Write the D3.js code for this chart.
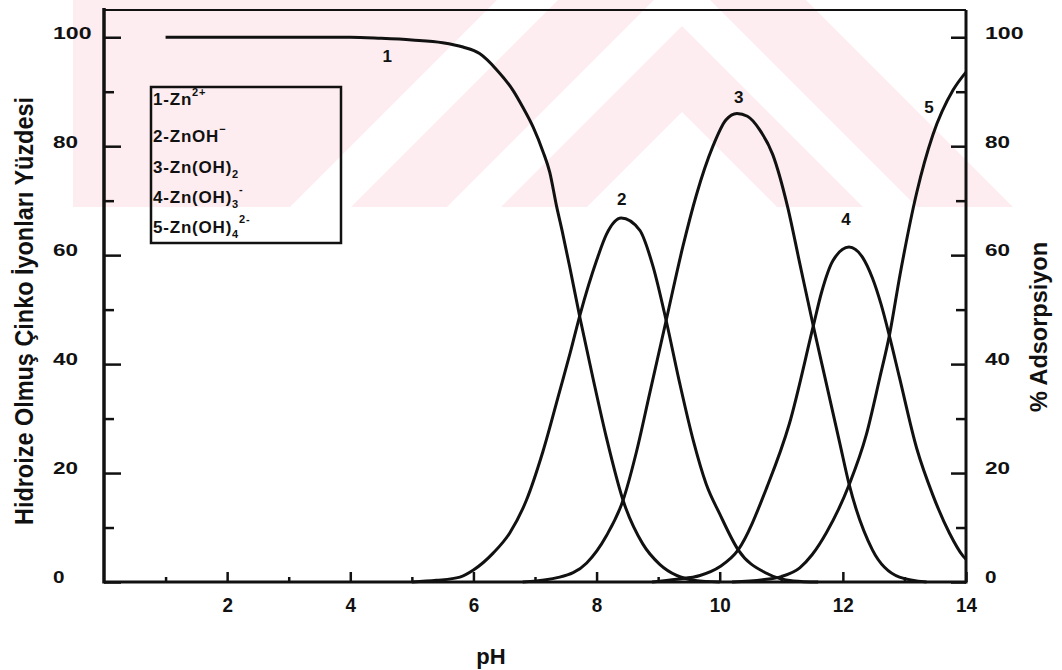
<!DOCTYPE html>
<html><head><meta charset="utf-8">
<script src="https://cdn.jsdelivr.net/npm/d3@7"></script>
<style>
body{margin:0;background:#fff}
text{font-family:"Liberation Sans",Arial,sans-serif;font-weight:bold;fill:#111}
</style>
</head><body>
<svg id="c" width="1062" height="670"></svg>
<script>
// ---------- data ----------
const xTicks = [2, 4, 6, 8, 10, 12, 14];
const xMinorTicks = [1, 3, 5, 7, 9, 11, 13];
const yTicks = [0, 20, 40, 60, 80, 100];
const yMinorTicks = [10, 30, 50, 70, 90];
const yTickLabels = ["0", "20", "40", "60", "80", "100"];

// 1 - Zn2+
const pH1 = [1.0, 2, 3, 4, 4.5, 5.0, 5.5, 5.83, 6.1, 6.38, 6.64, 6.8, 6.97, 7.13, 7.24, 7.35, 7.44, 7.57, 7.73, 7.94, 8.16, 8.43, 8.75, 9.03, 9.3, 9.6, 10.0];
const v1  = [100, 100, 100, 100, 99.8, 99.5, 99, 98.2, 97, 94, 90.3, 87.2, 83.5, 79, 75.2, 69, 64.5, 57.5, 48.5, 37.5, 26.5, 15, 7, 3.2, 1.2, 0.3, 0];
// 2 - ZnOH+
const pH2 = [5.0, 5.4, 5.78, 6.0, 6.32, 6.59, 6.86, 7.13, 7.4, 7.57, 7.73, 8.0, 8.16, 8.4, 8.7, 8.92, 9.13, 9.35, 9.57, 9.78, 10.0, 10.3, 10.76, 11.2, 11.6];
const v2  = [0, 0.3, 0.9, 2.2, 5.3, 9, 15, 24, 35, 42, 49, 59, 63.8, 66.8, 64.6, 57.8, 48, 36.5, 26, 18, 12.5, 5.9, 1.6, 0.2, 0];
// 3 - Zn(OH)2
const pH3 = [6.8, 7.4, 7.84, 8.16, 8.43, 8.65, 8.86, 9.13, 9.4, 9.62, 9.89, 10.1, 10.28, 10.45, 10.65, 10.86, 11.1, 11.3, 11.52, 11.73, 11.95, 12.1, 12.48, 12.92, 13.36];
const v3  = [0, 0.9, 3.5, 8.5, 15, 24, 34.5, 48, 61.5, 71, 80, 84.8, 86, 85.5, 83, 78.5, 69, 58.5, 47, 36.5, 25.5, 18, 5.9, 0.9, 0];
// 4 - Zn(OH)3-
const pH4 = [8.9, 9.3, 9.68, 10.0, 10.3, 10.77, 11.13, 11.52, 11.65, 11.84, 12.1, 12.32, 12.48, 12.62, 12.76, 12.92, 13.2, 13.46, 13.73, 13.95, 14.0];
const v4  = [0, 0.5, 1.2, 2.8, 5.9, 17.5, 29, 47, 53, 59, 61.5, 59.6, 55.8, 51, 45, 37.5, 24.5, 16, 9, 4.8, 4.2];
// 5 - Zn(OH)4 2-
const pH5 = [10.2, 10.7, 11.0, 11.3, 11.5, 11.73, 12.1, 12.38, 12.6, 12.76, 12.93, 13.2, 13.46, 13.79, 14.0];
const v5  = [0, 0.4, 1.0, 2.6, 5, 9, 17.8, 27, 37.5, 45.5, 56.5, 71.5, 82, 90.3, 93.6];

const curveLabels = ["1", "2", "3", "4", "5"];
const labelPH  = [4.6, 8.41, 10.31, 12.05, 13.4];
const labelVal = [95.4, 69.2, 87.9, 65.5, 86.1];

const legendMain = ["1-Zn", "2-ZnOH", "3-Zn(OH)", "4-Zn(OH)", "5-Zn(OH)"];
const legendSub  = ["", "", "2", "3", "4"];
const legendSup  = ["2+", "\u2212", "", "-", "2-"];

const xTitle = "pH";
const yTitle = "Hidroize Olmuş Çinko İyonları Yüzdesi";
const y2Title = "% Adsorpsiyon";

// ---------- layout ----------
const svg = d3.select("#c");
const x = d3.scaleLinear().domain([0, 14]).range([104, 966]);
const y = d3.scaleLinear().domain([0, 105]).range([582, 10]);

svg.append("rect").attr("width", 1062).attr("height", 670).attr("fill", "#fff");

// ---------- faint watermark (decorative background) ----------
const pink = "#fdedf0";
const wm = svg.append("g");
const cx = 682, bot = 207;
const chev = a => [[cx - (bot - a), bot], [cx, a], [cx + (bot - a), bot]];
wm.append("polygon").attr("points", [[73, 0], [497, 0], [290, bot], [73, bot]].join(" ")).attr("fill", pink);
[[-124, pink], [-28, "#fff"], [26, pink], [112, "#fff"]].forEach(([a, c]) => {
  wm.append("polygon").attr("points", chev(a).join(" ")).attr("fill", c);
});

// ---------- curves ----------
const series = [[pH1, v1], [pH2, v2], [pH3, v3], [pH4, v4], [pH5, v5]];
const line = d3.line().x(d => x(d[0])).y(d => y(d[1])).curve(d3.curveMonotoneX);
series.forEach(([px, pv]) => {
  svg.append("path")
    .datum(px.map((p, i) => [p, pv[i]]))
    .attr("d", line)
    .attr("fill", "none")
    .attr("stroke", "#111")
    .attr("stroke-width", 3)
    .attr("stroke-linejoin", "round");
});

// ---------- axes ----------
function styleAxis(g) {
  g.select(".domain").remove();
  g.selectAll(".tick line").attr("stroke", "#111").attr("stroke-width", 2.5);
}
// left
const gl = svg.append("g").attr("transform", "translate(104,0)")
  .call(d3.axisLeft(y).tickValues(yTicks).tickSize(-17).tickFormat((d, i) => yTickLabels[i]));
styleAxis(gl);
gl.selectAll("text").attr("x", -51).attr("dy", "0.05em").attr("text-anchor", "start")
  .style("font-size", "16px").attr("fill", "#111")
  .attr("textLength", function () { return this.textContent.length * 13.5 - 2; })
  .attr("lengthAdjust", "spacingAndGlyphs");
const glm = svg.append("g").attr("transform", "translate(104,0)")
  .call(d3.axisLeft(y).tickValues(yMinorTicks).tickSize(-10).tickFormat(""));
styleAxis(glm);
// right
const gr = svg.append("g").attr("transform", "translate(966,0)")
  .call(d3.axisRight(y).tickValues(yTicks).tickSize(-15).tickPadding(19).tickFormat((d, i) => yTickLabels[i]));
styleAxis(gr);
gr.selectAll("text").attr("dy", "0.05em").style("font-size", "16px").attr("fill", "#111")
  .attr("textLength", function () { return this.textContent.length * 13.5 - 2; })
  .attr("lengthAdjust", "spacingAndGlyphs");
const grm = svg.append("g").attr("transform", "translate(966,0)")
  .call(d3.axisRight(y).tickValues(yMinorTicks).tickSize(-10).tickFormat(""));
styleAxis(grm);
// bottom
const gb = svg.append("g").attr("transform", "translate(0,582)")
  .call(d3.axisBottom(x).tickValues(xTicks).tickSize(-10).tickPadding(15));
styleAxis(gb);
gb.selectAll("text").style("font-size", "21px").attr("fill", "#111")
  .attr("textLength", function () { return this.textContent.length * 10.5; })
  .attr("lengthAdjust", "spacingAndGlyphs");
const gbm = svg.append("g").attr("transform", "translate(0,582)")
  .call(d3.axisBottom(x).tickValues(xMinorTicks).tickSize(-5).tickFormat(""));
styleAxis(gbm);

// frame lines
const frame = svg.append("g").attr("stroke", "#111").attr("fill", "none");
frame.append("line").attr("x1", x(0)).attr("x2", x(0)).attr("y1", y(105) - 2).attr("y2", y(0) + 1.5).attr("stroke-width", 3.5);
frame.append("line").attr("x1", x(14)).attr("x2", x(14)).attr("y1", y(105)).attr("y2", y(0) + 1.5).attr("stroke-width", 3);
frame.append("line").attr("x1", x(0)).attr("x2", x(14)).attr("y1", y(0)).attr("y2", y(0)).attr("stroke-width", 3);
frame.append("line").attr("x1", x(0)).attr("x2", x(14)).attr("y1", y(105)).attr("y2", y(105)).attr("stroke-width", 2.2);

// ---------- curve number labels ----------
curveLabels.forEach((t, i) => {
  svg.append("text").attr("x", x(labelPH[i])).attr("y", y(labelVal[i]))
    .attr("text-anchor", "middle").style("font-size", "17px").text(t);
});

// ---------- legend box ----------
svg.append("rect").attr("x", 151).attr("y", 87).attr("width", 190).attr("height", 156)
  .attr("fill", "none").attr("stroke", "#111").attr("stroke-width", 2.5);
const legY = [105, 142, 173, 203, 233];
legendMain.forEach((t, i) => {
  const tx = svg.append("text").attr("x", 153).attr("y", legY[i]).style("font-size", "17px")
    .attr("letter-spacing", "0.8");
  tx.append("tspan").text(t);
  if (legendSub[i]) tx.append("tspan").attr("dy", 5).style("font-size", "11px").text(legendSub[i]);
  if (legendSup[i]) tx.append("tspan").attr("dy", legendSub[i] ? -15 : -9).style("font-size", "11px").text(legendSup[i]);
});

// ---------- axis titles ----------
svg.append("text").attr("x", 491).attr("y", 664).attr("text-anchor", "middle")
  .style("font-size", "22px").text(xTitle);
svg.append("text").attr("transform", "translate(33,311) rotate(-90)").attr("text-anchor", "middle")
  .style("font-size", "25px").attr("textLength", 428).attr("lengthAdjust", "spacingAndGlyphs").text(yTitle);
svg.append("text").attr("transform", "translate(1047,327) rotate(-90)").attr("text-anchor", "middle")
  .style("font-size", "23px").attr("textLength", 170).attr("lengthAdjust", "spacingAndGlyphs").text(y2Title);
</script>
</body></html>
